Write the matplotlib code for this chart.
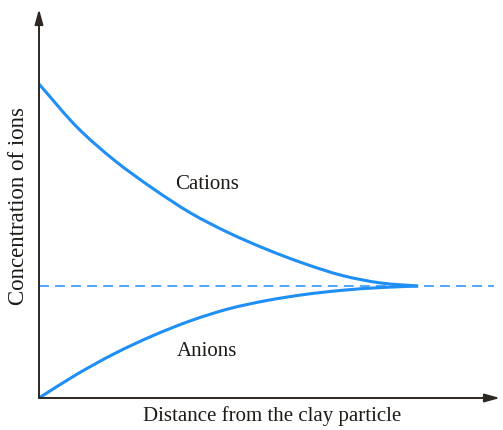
import matplotlib
matplotlib.use("Agg")
import matplotlib.pyplot as plt
from matplotlib.path import Path
from matplotlib.patches import PathPatch

# data (arbitrary units: distance 0..10 where curves meet, equilibrium concentration = 5)
cation_x = [0, 1, 2, 3, 4, 5, 6, 7, 8, 9, 10]
cation_y = [14.02, 12.1, 10.6, 9.36, 8.26, 7.38, 6.64, 6.0, 5.47, 5.14, 5.0]
anion_x = [0, 1, 2, 3, 4, 5, 6, 7, 8, 9, 10]
anion_y = [0.0, 1.06, 1.99, 2.78, 3.45, 3.98, 4.35, 4.62, 4.81, 4.93, 5.0]
equilibrium = 5.0

xmax, ymax = 12.16, 17.37
blue = "#1f8ff5"
axcol = "#2e2822"


def smooth_path(xs, ys):
    # Catmull-Rom through the data points, rendered as cubic Bezier segments
    pts = list(zip(xs, ys))
    verts = [pts[0]]
    codes = [Path.MOVETO]
    n = len(pts)
    for i in range(n - 1):
        p0 = pts[i - 1] if i > 0 else (2 * pts[0][0] - pts[1][0], 2 * pts[0][1] - pts[1][1])
        p1 = pts[i]
        p2 = pts[i + 1]
        p3 = pts[i + 2] if i + 2 < n else pts[i + 1]
        c1 = (p1[0] + (p2[0] - p0[0]) / 6, p1[1] + (p2[1] - p0[1]) / 6)
        c2 = (p2[0] - (p3[0] - p1[0]) / 6, p2[1] - (p3[1] - p1[1]) / 6)
        verts += [c1, c2, p2]
        codes += [Path.CURVE4] * 3
    return Path(verts, codes)


fig = plt.figure(figsize=(5.03, 4.31), dpi=100)
ax = fig.add_axes([39/503, 32/431, 461/503, 389/431])
ax.set_xlim(0, xmax)
ax.set_ylim(0, ymax)
for s in ax.spines.values():
    s.set_visible(False)
ax.set_xticks([])
ax.set_yticks([])

# axes arrows
ax.annotate("", xy=(xmax, 0), xytext=(0, 0),
            arrowprops=dict(arrowstyle="-|>,head_length=0.9,head_width=0.25", color=axcol, lw=1.4,
                            shrinkA=0, shrinkB=0), annotation_clip=False)
ax.annotate("", xy=(0, ymax), xytext=(0, 0),
            arrowprops=dict(arrowstyle="-|>,head_length=0.9,head_width=0.25", color=axcol, lw=1.4,
                            shrinkA=0, shrinkB=0), annotation_clip=False)

ax.plot([0, 12.0], [equilibrium, equilibrium], color=blue, lw=1.1, dashes=(6.5, 4), clip_on=False)
for xs, ys in ((cation_x, cation_y), (anion_x, anion_y)):
    ax.add_patch(PathPatch(smooth_path(xs, ys), facecolor="none", edgecolor=blue, lw=2.2,
                           capstyle="butt", clip_on=False))

font = "Liberation Serif"
tc = "#1e1a16"
ax.text(4.43, 9.6, "Cations", fontsize=15, family=font, color=tc, ha="center", va="center")
ax.text(4.43, 2.1, "Anions", fontsize=15, family=font, color=tc, ha="center", va="center")
fig.text(272/503, 1 - 416/431, "Distance from the clay particle", fontsize=15, family=font,
         color=tc, ha="center", va="center")
fig.text(19/503, 1 - 206/431, "Concentration of ions", fontsize=16.5, family=font,
         color=tc, ha="center", va="center", rotation=90)

fig.savefig("out.png", dpi=100)
